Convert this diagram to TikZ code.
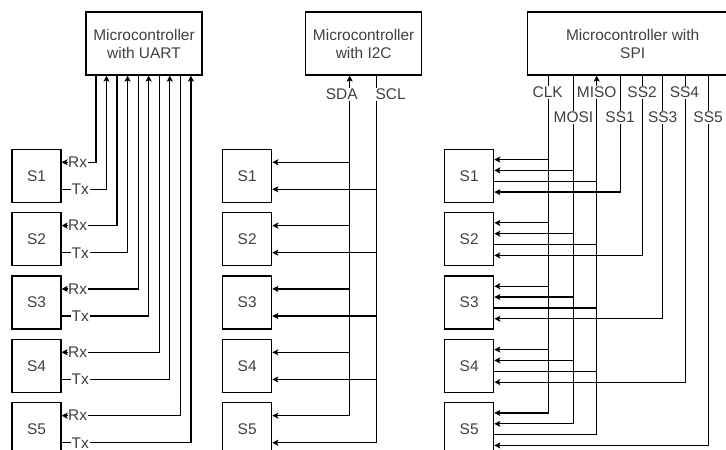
\documentclass[tikz,border=0pt]{standalone}
\usepackage{fontspec}
\setmainfont{Liberation Sans}
\usetikzlibrary{arrows.meta, positioning, calc}

\begin{document}
\begin{tikzpicture}[
    x=0.75pt, y=-0.75pt,
    every node/.style={font=\fontsize{11.6pt}{13.5pt}\selectfont, text=black!75},
    mcu/.style={rectangle, draw=black, line width=0.9pt, minimum width=87pt, minimum height=47.25pt, align=center},
    sensor/.style={rectangle, draw=black, line width=0.9pt, minimum width=36.75pt, minimum height=39.75pt},
    wire/.style={line width=0.9pt},
    arrow/.style={wire, -{Stealth[length=4.5pt, width=4.5pt, inset=1pt]}},
    pinlabel/.style={fill=white, inner sep=0.5pt}
]
    % Frame
    \useasboundingbox (0,0) rectangle (726,450);
    \clip (0,0) rectangle (726,450);

    % Controllers
    \node[mcu] (uart) at (144,43.5) {Microcontroller\\with UART};
    \node[mcu] (i2c) at (363.7,43.5) {Microcontroller\\with I2C};
    \node[mcu, minimum width=157.5pt] (spi) at (632.7,43.5) {Microcontroller with\\SPI};

    % Slaves and their pin points
    \foreach \i in {1,...,5} {
        \pgfmathsetmacro{\sy}{175.8+63.35*(\i-1)}
        \node[sensor] (uartS\i) at (36.5,\sy) {S\i};
        \node[sensor] (i2cS\i) at (247.2,\sy) {S\i};
        \node[sensor] (spiS\i) at (469.2,\sy) {S\i};
        \coordinate (uartRx\i) at ($(uartS\i.north east)!0.25!(uartS\i.south east)$);
        \coordinate (uartTx\i) at ($(uartS\i.north east)!0.75!(uartS\i.south east)$);
        \coordinate (i2cA\i) at ($(i2cS\i.north east)!0.25!(i2cS\i.south east)$);
        \coordinate (i2cB\i) at ($(i2cS\i.north east)!0.75!(i2cS\i.south east)$);
        \coordinate (spiA\i) at ($(spiS\i.north east)!0.2!(spiS\i.south east)$);
        \coordinate (spiB\i) at ($(spiS\i.north east)!0.4!(spiS\i.south east)$);
        \coordinate (spiC\i) at ($(spiS\i.north east)!0.6!(spiS\i.south east)$);
        \coordinate (spiD\i) at ($(spiS\i.north east)!0.8!(spiS\i.south east)$);
    }

    % UART: one Rx/Tx pair per slave
    \foreach \i in {1,...,5} {
        \pgfmathsetmacro{\rx}{10.55*(2*\i-1)}
        \pgfmathsetmacro{\tx}{10.55*(2*\i)}
        \draw[arrow] ($(uart.south west)+(\rx,0)$) |- (uartRx\i)
            node[pinlabel, at end, anchor=west, xshift=4pt] {Rx};
        \draw[arrow] (uartTx\i) -| ($(uart.south west)+(\tx,0)$)
            node[pinlabel, at start, anchor=west, xshift=6.6pt] {Tx};
    }

    % I2C: shared SDA and SCL
    \coordinate (sda) at ($(i2c.south west)+(44.6,0)$);
    \coordinate (scl) at ($(i2c.south west)+(71.6,0)$);
    \draw[arrow] (sda |- i2cA5) -- (sda);
    \draw[wire] (scl) -- (scl |- i2cB5);
    \foreach \i in {1,...,5} {
        \draw[arrow] (sda |- i2cA\i) -- (i2cA\i);
        \draw[arrow] (scl |- i2cB\i) -- (i2cB\i);
    }
    \node[pinlabel] (sdaL) at ($(sda)+(-8,19)$) {SDA};
    \node[pinlabel] (sclL) at ($(scl)+(14,19)$) {SCL};

    % SPI: shared CLK, MOSI, MISO and one SS per slave
    \coordinate (clk) at ($(spi.south west)+(21.6,0)$);
    \coordinate (mosi) at ($(spi.south west)+(46.3,0)$);
    \coordinate (miso) at ($(spi.south west)+(69.6,0)$);
    \draw[wire] (clk) -- (clk |- spiA5);
    \draw[wire] (mosi) -- (mosi |- spiB5);
    \draw[arrow] (miso |- spiC5) -- (miso);
    \foreach \i in {1,...,5} {
        \draw[arrow] (clk |- spiA\i) -- (spiA\i);
        \draw[arrow] (mosi |- spiB\i) -- (spiB\i);
        \draw[wire] (spiC\i) -- (miso |- spiC\i);
    }
    \foreach \i/\off in {1/93, 2/115, 3/135.6, 4/158.3, 5/181} {
        \coordinate (ss\i) at ($(spi.south west)+(\off,0)$);
        \draw[arrow] (ss\i) |- (spiD\i);
    }

    % SPI pin labels, two rows
    \node[pinlabel] (clkL) at ($(clk)+(-1,17)$) {CLK};
    \node[pinlabel] (misoL) at ($(miso)+(0,17)$) {MISO};
    \node[pinlabel] (ss2L) at ($(ss2)+(0,17)$) {SS2};
    \node[pinlabel] (ss4L) at ($(ss4)+(-1,17)$) {SS4};
    \node[pinlabel] (mosiL) at ($(mosi)+(0,42)$) {MOSI};
    \node[pinlabel] (ss1L) at ($(ss1)+(0,42)$) {SS1};
    \node[pinlabel] (ss3L) at ($(ss3)+(0,42)$) {SS3};
    \node[pinlabel] (ss5L) at ($(ss5)+(0,42)$) {SS5};

\end{tikzpicture}
\end{document}
